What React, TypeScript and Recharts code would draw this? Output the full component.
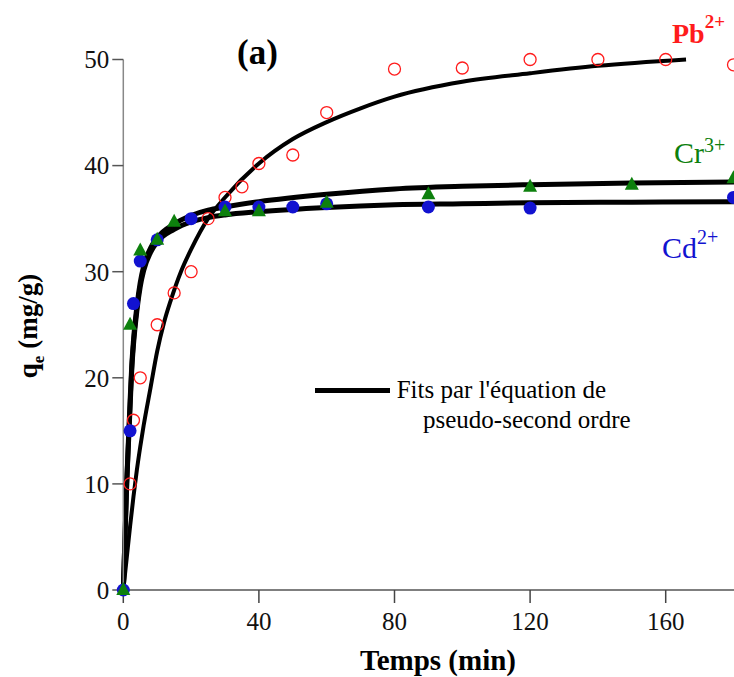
import React from 'react';
import { ComposedChart, Line, Scatter, XAxis, YAxis } from 'recharts';

// measured points (t in min, qe in mg/g)
const pbPoints = [
  { t: 2, q: 10 }, { t: 3, q: 16 }, { t: 5, q: 20 }, { t: 10, q: 25 }, { t: 15, q: 28 },
  { t: 20, q: 30 }, { t: 25, q: 35 }, { t: 30, q: 37 }, { t: 35, q: 38 }, { t: 40, q: 40.2 },
  { t: 50, q: 41 }, { t: 60, q: 45 }, { t: 80, q: 49.1 }, { t: 100, q: 49.2 }, { t: 120, q: 50 },
  { t: 140, q: 50 }, { t: 160, q: 50 }, { t: 180, q: 49.5 },
];
const cdPoints = [
  { t: 0, q: 0 }, { t: 2, q: 15 }, { t: 3, q: 27 }, { t: 5, q: 31 }, { t: 10, q: 33 },
  { t: 20, q: 35 }, { t: 30, q: 36.1 }, { t: 40, q: 36.1 }, { t: 50, q: 36.1 }, { t: 60, q: 36.4 },
  { t: 90, q: 36.1 }, { t: 120, q: 36 }, { t: 180, q: 37 },
];
const crPoints = [
  { t: 0, q: 0 }, { t: 2, q: 25 }, { t: 5, q: 32 }, { t: 10, q: 33 }, { t: 15, q: 34.7 },
  { t: 30, q: 35.7 }, { t: 40, q: 35.7 }, { t: 60, q: 36.5 }, { t: 90, q: 37.3 },
  { t: 120, q: 38 }, { t: 150, q: 38.2 }, { t: 180, q: 38.8 },
];

// pseudo-second order fit curves
const pbFit = [
  { t: 0, q: 0 }, { t: 1, q: 3 }, { t: 2, q: 6 }, { t: 3, q: 8.8 }, { t: 4, q: 11.3 },
  { t: 5, q: 13.5 }, { t: 6, q: 15.5 }, { t: 8, q: 19 }, { t: 10, q: 22.5 }, { t: 12, q: 25.2 },
  { t: 14, q: 27.3 }, { t: 17, q: 30 }, { t: 20, q: 32.1 }, { t: 25, q: 35 }, { t: 30, q: 37 },
  { t: 40, q: 40.2 }, { t: 50, q: 42.5 }, { t: 60, q: 44.1 }, { t: 70, q: 45.4 }, { t: 80, q: 46.5 },
  { t: 100, q: 47.9 }, { t: 120, q: 48.7 }, { t: 140, q: 49.4 }, { t: 166, q: 50 },
];
const cdFit = [
  { t: 0, q: 0 }, { t: 0.5, q: 5 }, { t: 1, q: 10 }, { t: 1.5, q: 13.6 }, { t: 2, q: 17.2 },
  { t: 2.5, q: 20.8 }, { t: 3, q: 23.1 }, { t: 4, q: 26.3 }, { t: 5, q: 28.6 }, { t: 6, q: 30.1 },
  { t: 8, q: 31.8 }, { t: 10, q: 32.8 }, { t: 15, q: 34 }, { t: 20, q: 34.7 }, { t: 25, q: 35.1 },
  { t: 30, q: 35.35 }, { t: 40, q: 35.65 }, { t: 60, q: 36.05 }, { t: 80, q: 36.3 }, { t: 100, q: 36.4 },
  { t: 120, q: 36.5 }, { t: 150, q: 36.55 }, { t: 180, q: 36.6 }, { t: 200, q: 36.62 },
];
const crFit = [
  { t: 0, q: 0 }, { t: 0.5, q: 5 }, { t: 1, q: 10 }, { t: 1.5, q: 14 }, { t: 2, q: 17.8 },
  { t: 2.5, q: 21.2 }, { t: 3, q: 23.5 }, { t: 4, q: 26.7 }, { t: 5, q: 29 }, { t: 6, q: 30.5 },
  { t: 8, q: 32.2 }, { t: 10, q: 33.2 }, { t: 15, q: 34.5 }, { t: 20, q: 35.3 }, { t: 25, q: 35.8 },
  { t: 30, q: 36.1 }, { t: 40, q: 36.6 }, { t: 60, q: 37.3 }, { t: 80, q: 37.8 }, { t: 100, q: 38.05 },
  { t: 120, q: 38.2 }, { t: 150, q: 38.35 }, { t: 180, q: 38.45 }, { t: 200, q: 38.5 },
];

const xTicks = [0, 40, 80, 120, 160];
const yTicks = [0, 10, 20, 30, 40, 50];

const serif = '"Liberation Serif", "Times New Roman", serif';
const RED = '#ff1c1c';
const BLUE = '#1212d0';
const GREEN = '#0d800d';

const Triangle = (props: any) => {
  const { cx, cy } = props;
  if (cx == null || cy == null) return null;
  return <polygon points={`${cx},${cy - 8} ${cx - 7},${cy + 5} ${cx + 7},${cy + 5}`} fill={GREEN} />;
};

const Ring = (props: any) => {
  const { cx, cy } = props;
  if (cx == null || cy == null) return null;
  return <circle cx={cx} cy={cy} r={6} fill="none" stroke={RED} strokeWidth={1.3} />;
};

const Dot = (props: any) => {
  const { cx, cy } = props;
  if (cx == null || cy == null) return null;
  return <circle cx={cx} cy={cy} r={6.5} fill={BLUE} />;
};

export default function App() {
  // fixed at the page corner so the plot can run past the right edge (as in the figure) without scrollbars
  return (
    <div style={{ position: 'fixed', left: 0, top: 0, width: 734, height: 677, overflow: 'hidden', fontFamily: serif, background: '#fff' }}>
      <ComposedChart width={830} height={677} margin={{ top: 59.5, right: 28.7, bottom: 7, left: 0 }}>
        <XAxis
          type="number"
          dataKey="t"
          domain={[0, 200]}
          ticks={xTicks}
          axisLine={{ stroke: '#555', strokeWidth: 1.5 }}
          tickLine={{ stroke: '#444', strokeWidth: 1.5 }}
          tickSize={13}
          tickMargin={9}
          height={80}
          tick={{ fontSize: 25, fill: '#111', fontFamily: serif }}
        />
        <YAxis
          type="number"
          dataKey="q"
          domain={[0, 50]}
          ticks={yTicks}
          axisLine={{ stroke: '#888', strokeWidth: 1.5 }}
          tickLine={{ stroke: '#555', strokeWidth: 1.5 }}
          tickSize={11}
          tickMargin={3}
          width={123.3}
          tick={{ fontSize: 25, fill: '#111', fontFamily: serif }}
        />
        <Line data={pbFit} dataKey="q" type="monotone" stroke="#000" strokeWidth={4} dot={false} activeDot={false} isAnimationActive={false} />
        <Line data={cdFit} dataKey="q" type="monotone" stroke="#000" strokeWidth={5} dot={false} activeDot={false} isAnimationActive={false} />
        <Line data={crFit} dataKey="q" type="monotone" stroke="#000" strokeWidth={5} dot={false} activeDot={false} isAnimationActive={false} />
        <Scatter data={pbPoints} dataKey="q" shape={Ring} isAnimationActive={false} />
        <Scatter data={cdPoints} dataKey="q" shape={Dot} isAnimationActive={false} />
        <Scatter data={crPoints} dataKey="q" shape={Triangle} isAnimationActive={false} />
      </ComposedChart>

      <svg width={734} height={677} style={{ position: 'absolute', left: 0, top: 0, pointerEvents: 'none' }}>
        <text x={237} y={63.5} fontSize={35} fontWeight="bold" fontFamily={serif} fill="#000">(a)</text>

        <text x={672} y={43} fontSize={28} fontWeight="bold" fontFamily={serif} fill={RED}>
          Pb<tspan fontSize={19} dy={-15}>2+</tspan>
        </text>
        <text x={674} y={163} fontSize={30} fontFamily={serif} fill={GREEN}>
          Cr<tspan fontSize={20} dy={-11}>3+</tspan>
        </text>
        <text x={662} y={258} fontSize={30} fontFamily={serif} fill={BLUE}>
          Cd<tspan fontSize={20} dy={-14}>2+</tspan>
        </text>

        <line x1={315} y1={390.5} x2={390} y2={390.5} stroke="#000" strokeWidth={5} />
        <text x={396.7} y={397.7} fontSize={25} fontFamily={serif} fill="#000">Fits par l'équation de</text>
        <text x={423} y={428} fontSize={25} fontFamily={serif} fill="#000">pseudo-second ordre</text>

        <text x={438} y={670} fontSize={29} fontWeight="bold" fontFamily={serif} fill="#000" textAnchor="middle">Temps (min)</text>

        <text transform="translate(37,326) rotate(-90)" fontSize={27} fontWeight="bold" fontFamily={serif} fill="#000" textAnchor="middle">
          q<tspan fontSize={17} dy={7}>e</tspan><tspan dy={-7}> (mg/g)</tspan>
        </text>
      </svg>
    </div>
  );
}
